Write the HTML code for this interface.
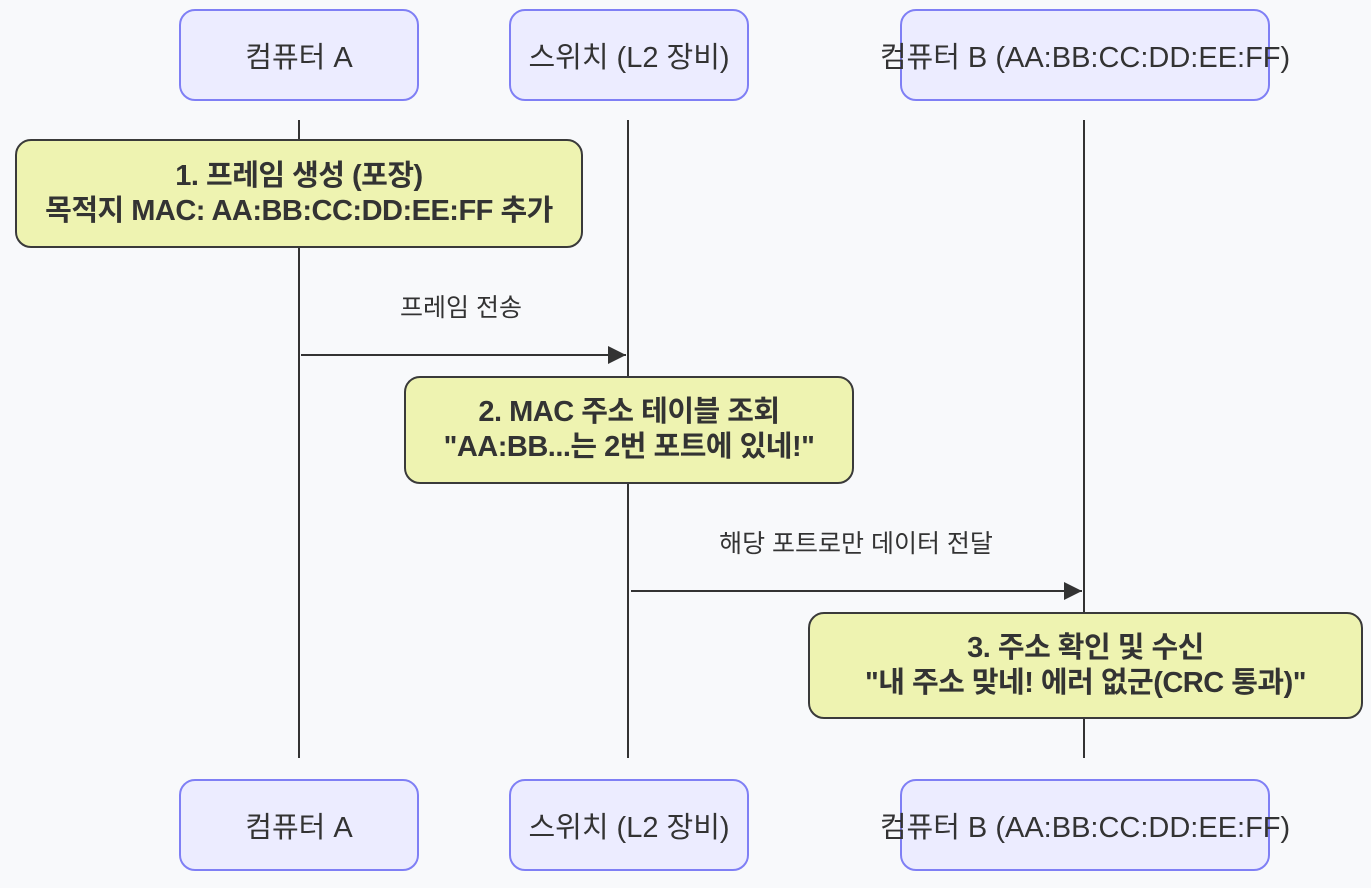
<!DOCTYPE html>
<html><head><meta charset="utf-8"><style>
body{margin:0;width:1371px;height:888px;background:#f8f9fb;position:relative;overflow:hidden;font-family:"Liberation Sans","Noto Sans CJK KR",sans-serif;color:#333}
.a{position:absolute;box-sizing:border-box;background:#ececff;border:2px solid #7f7ff5;border-radius:16px;display:flex;align-items:center;justify-content:center;font-size:29px;white-space:nowrap;overflow:visible}
.n{position:absolute;box-sizing:border-box;background:#eef3b1;border:2px solid #3a3a3a;border-radius:16px;display:flex;align-items:center;justify-content:center;text-align:center;font-size:29px;font-weight:bold;line-height:35px;white-space:nowrap;letter-spacing:-0.5px}
.m{position:absolute;font-size:25px;white-space:nowrap;transform:translateX(-50%)}
svg{position:absolute;left:0;top:0}
</style></head><body>
<svg width="1371" height="888">
<defs><marker id="ar" markerWidth="20" markerHeight="20" refX="18" refY="9" orient="auto" markerUnits="userSpaceOnUse"><path d="M0,0 L18,9 L0,18 z" fill="#333"/></marker></defs>
<g stroke="#333" stroke-width="2">
<line x1="299" y1="120" x2="299" y2="758"/>
<line x1="628" y1="120" x2="628" y2="758"/>
<line x1="1084" y1="120" x2="1084" y2="758"/>
<line x1="301" y1="355" x2="626" y2="355" marker-end="url(#ar)"/>
<line x1="631" y1="591" x2="1082" y2="591" marker-end="url(#ar)"/>
</g></svg>
<div class="a" style="left:179px;top:9px;width:240px;height:92px">컴퓨터 A</div>
<div class="a" style="left:509px;top:9px;width:240px;height:92px">스위치 (L2 장비)</div>
<div class="a" style="left:900px;top:9px;width:370px;height:92px">컴퓨터 B (AA:BB:CC:DD:EE:FF)</div>
<div class="a" style="left:179px;top:779px;width:240px;height:92px">컴퓨터 A</div>
<div class="a" style="left:509px;top:779px;width:240px;height:92px">스위치 (L2 장비)</div>
<div class="a" style="left:900px;top:779px;width:370px;height:92px">컴퓨터 B (AA:BB:CC:DD:EE:FF)</div>
<div class="n" style="left:15px;top:139px;width:568px;height:109px">1. 프레임 생성 (포장)<br>목적지 MAC: AA:BB:CC:DD:EE:FF 추가</div>
<div class="n" style="left:404px;top:376px;width:450px;height:108px">2. MAC 주소 테이블 조회<br>"AA:BB...는 2번 포트에 있네!"</div>
<div class="n" style="left:808px;top:612px;width:555px;height:107px">3. 주소 확인 및 수신<br>"내 주소 맞네! 에러 없군(CRC 통과)"</div>
<div class="m" style="left:461px;top:288px">프레임 전송</div>
<div class="m" style="left:856px;top:524px">해당 포트로만 데이터 전달</div>
</body></html>
